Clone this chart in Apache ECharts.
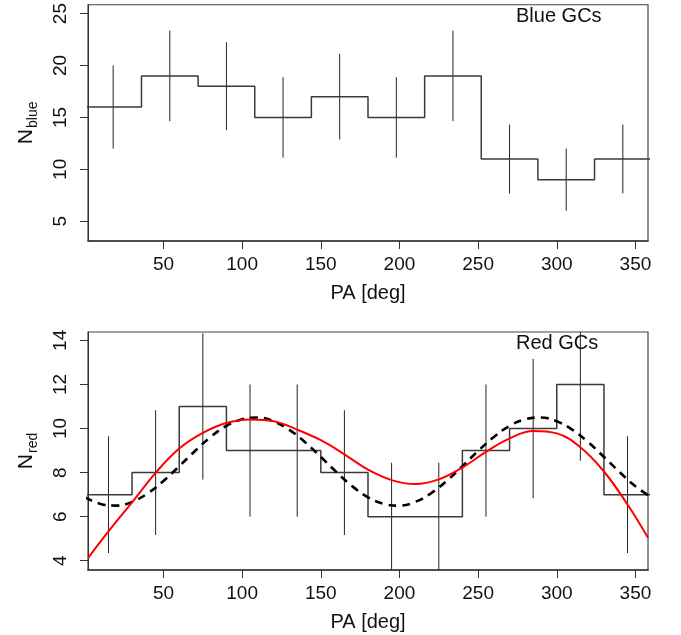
<!DOCTYPE html>
<html><head><meta charset="utf-8">
<script src="https://cdn.jsdelivr.net/npm/echarts@6/dist/echarts.min.js"></script>
<style>html,body{margin:0;padding:0;background:#fff}#c{width:681px;height:635px}</style>
</head><body><div id="c"></div>
<script>
// ---- data ----
const blueEdges = [0, 36, 72, 108, 144, 180, 216, 252, 288, 324, 360];
const blueCounts = [16, 19, 18, 15, 17, 15, 19, 11, 9, 11];
const blueCenters = [18, 54, 90, 126, 162, 198, 234, 270, 306, 342];
const blueErrLow = [12.0, 14.64, 13.76, 11.13, 12.88, 11.13, 14.64, 7.68, 6.0, 7.68];
const blueErrHigh = [20.0, 23.36, 22.24, 18.87, 21.12, 18.87, 23.36, 14.32, 12.0, 14.32];

const redEdges = [0, 30, 60, 90, 120, 150, 180, 210, 240, 270, 300, 330, 360];
const redCounts = [7, 8, 11, 9, 9, 8, 6, 6, 9, 10, 12, 7];
const redCenters = [15, 45, 75, 105, 135, 165, 195, 225, 255, 285, 315, 345];
const redErrLow = [4.35, 5.17, 7.68, 6.0, 6.0, 5.17, 3.55, 3.55, 6.0, 6.84, 8.54, 4.35];
const redErrHigh = [9.65, 10.83, 14.32, 12.0, 12.0, 10.83, 8.45, 8.45, 12.0, 13.16, 15.46, 9.65];

const dashX = [0,10,20,30,40,50,60,70,80,90,100,110,120,130,140,150,160,170,180,190,200,210,220,230,240,250,260,270,280,290,300,310,320,330,340,350,360];
const dashY = [6.88,6.58,6.50,6.67,7.06,7.62,8.29,8.98,9.62,10.12,10.42,10.50,10.33,9.94,9.38,8.71,8.02,7.38,6.88,6.58,6.50,6.67,7.06,7.62,8.29,8.98,9.62,10.12,10.42,10.50,10.33,9.94,9.38,8.71,8.02,7.38,6.88];

const fitX = [2,15,30,45,60,75,90,105,120,135,150,165,180,195,210,225,240,255,270,285,300,315,330,345,358];
const fitY = [4.12,5.33,6.65,7.99,9.09,9.80,10.25,10.41,10.33,9.95,9.47,8.83,8.13,7.66,7.48,7.69,8.23,8.94,9.55,9.89,9.78,9.15,8.05,6.55,5.04];

const xTicks = [50, 100, 150, 200, 250, 300, 350];
const blueYTicks = [5, 10, 15, 20, 25];
const redYTicks = [4, 6, 8, 10, 12, 14];

// ---- helpers ----
function stepData(edges, counts) {
  const d = counts.map((c, i) => [edges[i], c]);
  d.push([edges[edges.length - 1], counts[counts.length - 1]]);
  return d;
}
function errData(xs, lo, hi) { return xs.map((x, i) => [x, lo[i], hi[i]]); }
function zip(xs, ys) { return xs.map((x, i) => [x, ys[i]]); }

const FONT = 'Liberation Sans';
const TXT = '#111';

function xAxisCfg(gi) {
  return {
    gridIndex: gi, type: 'value', min: 2, max: 358,
    name: 'PA [deg]', nameLocation: 'middle', nameGap: 42,
    nameTextStyle: { fontFamily: FONT, fontSize: 20, color: TXT },
    axisLine: { show: true, onZero: false, lineStyle: { color: '#333', width: 1.5 } },
    axisTick: { show: true, length: 8, inside: false, customValues: xTicks, lineStyle: { color: '#333' } },
    axisLabel: { customValues: xTicks, margin: 14, fontFamily: FONT, fontSize: 19, color: TXT },
    splitLine: { show: false }
  };
}
function yAxisCfg(gi, min, max, ticks, sub) {
  return {
    gridIndex: gi, type: 'value', min: min, max: max,
    name: '{n|N}{s|' + sub + '}', nameLocation: 'middle', nameGap: 51, nameRotate: 90,
    nameTextStyle: { fontFamily: FONT, color: TXT,
      rich: { n: { fontSize: 21, fontFamily: FONT, color: TXT, lineHeight: 24, verticalAlign: 'bottom' },
              s: { fontSize: 14, fontFamily: FONT, color: TXT, lineHeight: 14, verticalAlign: 'bottom', padding: [0, 0, -3, 1] } } },
    axisLine: { show: true, onZero: false, lineStyle: { color: '#333', width: 1 } },
    axisTick: { show: true, length: 8, inside: false, customValues: ticks, lineStyle: { color: '#333' } },
    axisLabel: { customValues: ticks, rotate: 90, margin: 18, fontFamily: FONT, fontSize: 19, color: TXT },
    splitLine: { show: false }
  };
}
function errSeries(xi, data) {
  return {
    type: 'custom', xAxisIndex: xi, yAxisIndex: xi, clip: true, silent: true,
    data: data,
    renderItem: function (params, api) {
      const p1 = api.coord([api.value(0), api.value(1)]);
      const p2 = api.coord([api.value(0), api.value(2)]);
      return { type: 'line', shape: { x1: p1[0], y1: p1[1], x2: p2[0], y2: p2[1] },
               style: { stroke: '#222', lineWidth: 1 } };
    }
  };
}

const chart = echarts.init(document.getElementById('c'), null, { renderer: 'canvas' });
chart.setOption({
  backgroundColor: '#fff',
  animation: false,
  grid: [
    { left: 88, top: 2, width: 560, height: 239, show: true, borderColor: '#444', borderWidth: 1.2, backgroundColor: 'transparent' },
    { left: 88, top: 332, width: 560, height: 238, show: true, borderColor: '#444', borderWidth: 1.2, backgroundColor: 'transparent' }
  ],
  xAxis: [xAxisCfg(0), xAxisCfg(1)],
  yAxis: [yAxisCfg(0, 3.1, 25.85, blueYTicks, 'blue'), yAxisCfg(1, 3.58, 14.38, redYTicks, 'red')],
  series: [
    { type: 'line', xAxisIndex: 0, yAxisIndex: 0, step: 'end', showSymbol: false, silent: true,
      data: stepData(blueEdges, blueCounts), lineStyle: { color: '#3a3a3a', width: 1.5 } },
    errSeries(0, errData(blueCenters, blueErrLow, blueErrHigh)),
    { type: 'line', xAxisIndex: 1, yAxisIndex: 1, step: 'end', showSymbol: false, silent: true,
      data: stepData(redEdges, redCounts), lineStyle: { color: '#3a3a3a', width: 1.5 } },
    errSeries(1, errData(redCenters, redErrLow, redErrHigh)),
    { type: 'line', xAxisIndex: 1, yAxisIndex: 1, smooth: 0.4, showSymbol: false, silent: true,
      data: zip(dashX, dashY), lineStyle: { color: '#000', width: 2.6, type: [8, 6] } },
    { type: 'line', xAxisIndex: 1, yAxisIndex: 1, smooth: 0.4, showSymbol: false, silent: true,
      data: zip(fitX, fitY), lineStyle: { color: '#ff0000', width: 2 } }
  ],
  graphic: [
    { type: 'text', left: 516, top: 6, style: { text: 'Blue GCs', font: '20px "' + FONT + '"', fill: TXT } },
    { type: 'text', left: 516, top: 333, style: { text: 'Red GCs', font: '20px "' + FONT + '"', fill: TXT } }
  ]
});
</script></body></html>
